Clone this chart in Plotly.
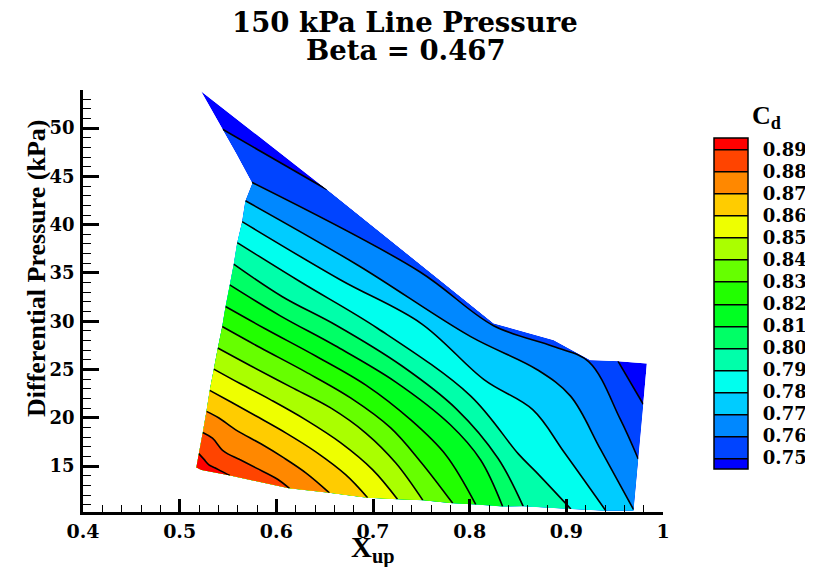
import plotly.graph_objects as go

# ---------------- data ----------------
# Curvilinear measurement grid: 17 rows (b) x 7 columns (a).
a_idx = [0, 1, 2, 3, 4, 5, 6]
b_idx = [0, 1, 2, 3, 4, 5, 6, 7, 8, 9, 10, 11, 12, 13, 14, 15, 16]

x_up = [
    [0.5172, 0.5181, 0.5189, 0.5198, 0.5207, 0.5216, 0.5224],
    [0.5197, 0.5248, 0.5300, 0.5352, 0.5403, 0.5455, 0.5507],
    [0.5238, 0.5338, 0.5452, 0.5617, 0.5783, 0.6007, 0.6127],
    [0.5276, 0.5400, 0.5576, 0.5835, 0.6072, 0.6300, 0.6541],
    [0.5310, 0.5524, 0.5783, 0.6093, 0.6403, 0.6714, 0.6938],
    [0.5352, 0.5628, 0.5938, 0.6300, 0.6662, 0.6993, 0.7248],
    [0.5393, 0.5731, 0.6145, 0.6558, 0.6920, 0.7231, 0.7510],
    [0.5439, 0.5835, 0.6300, 0.6765, 0.7179, 0.7489, 0.7820],
    [0.5473, 0.5886, 0.6403, 0.6920, 0.7386, 0.7748, 0.8058],
    [0.5517, 0.6041, 0.6610, 0.7231, 0.7799, 0.8110, 0.8337],
    [0.5558, 0.6059, 0.6610, 0.7282, 0.7851, 0.8285, 0.8544],
    [0.5594, 0.6248, 0.7041, 0.8006, 0.8503, 0.8678, 0.9040],
    [0.5645, 0.6662, 0.7489, 0.8141, 0.8647, 0.8968, 0.9402],
    [0.5679, 0.6835, 0.8006, 0.8696, 0.9040, 0.9350, 0.9695],
    [0.5752, 0.7489, 0.8247, 0.8868, 0.9226, 0.9557, 0.9743],
    [0.5586, 0.7282, 0.8247, 0.8868, 0.9237, 0.9547, 0.9795],
    [0.5221, 0.6541, 0.8247, 0.8868, 0.9247, 0.9537, 0.9833],
]

dp_kpa = [
    [14.84, 14.80, 14.76, 14.72, 14.67, 14.63, 14.59],
    [16.24, 15.67, 15.10, 14.83, 14.57, 14.31, 14.04],
    [18.44, 17.84, 16.50, 15.64, 14.79, 13.62, 12.69],
    [20.62, 19.97, 18.72, 17.28, 15.83, 14.28, 12.24],
    [22.79, 21.62, 20.17, 18.41, 16.45, 14.07, 11.72],
    [25.00, 23.48, 21.83, 19.76, 17.38, 14.59, 11.56],
    [27.18, 25.35, 23.17, 21.00, 18.41, 15.31, 11.45],
    [29.41, 27.21, 24.72, 22.03, 18.93, 15.41, 11.14],
    [31.48, 29.17, 26.38, 23.38, 19.76, 16.14, 11.02],
    [33.72, 30.52, 27.41, 23.69, 19.24, 15.62, 10.81],
    [35.87, 32.51, 29.59, 25.45, 21.00, 15.83, 10.83],
    [38.10, 34.03, 29.24, 22.24, 16.14, 14.38, 10.55],
    [40.27, 34.24, 29.79, 23.90, 20.79, 16.45, 10.38],
    [42.44, 35.79, 28.38, 24.93, 22.17, 16.66, 10.38],
    [44.28, 35.07, 29.53, 27.34, 25.71, 19.76, 15.62],
    [47.36, 36.83, 29.65, 27.69, 25.83, 22.86, 21.31],
    [53.82, 43.50, 29.76, 28.03, 25.97, 25.86, 25.62],
]

cd = [
    [0.8945, 0.8945, 0.8945, 0.8945, 0.8945, 0.8945, 0.8945],
    [0.8902, 0.8902, 0.8902, 0.8902, 0.8902, 0.8902, 0.8902],
    [0.8802, 0.8802, 0.8802, 0.8802, 0.8802, 0.8802, 0.8802],
    [0.8702, 0.8702, 0.8702, 0.8702, 0.8702, 0.8702, 0.8702],
    [0.8602, 0.8602, 0.8602, 0.8602, 0.8602, 0.8602, 0.8602],
    [0.8502, 0.8502, 0.8502, 0.8502, 0.8502, 0.8502, 0.8502],
    [0.8402, 0.8402, 0.8402, 0.8402, 0.8402, 0.8402, 0.8402],
    [0.8302, 0.8302, 0.8302, 0.8302, 0.8302, 0.8302, 0.8302],
    [0.8202, 0.8202, 0.8202, 0.8202, 0.8202, 0.8202, 0.8202],
    [0.8102, 0.8102, 0.8102, 0.8102, 0.8102, 0.8102, 0.8102],
    [0.8002, 0.8002, 0.8002, 0.8002, 0.8002, 0.8002, 0.8002],
    [0.7902, 0.7902, 0.7902, 0.7902, 0.7902, 0.7902, 0.7902],
    [0.7802, 0.7802, 0.7802, 0.7802, 0.7802, 0.7802, 0.7802],
    [0.7702, 0.7702, 0.7702, 0.7702, 0.7702, 0.7702, 0.7702],
    [0.7602, 0.7602, 0.7602, 0.7602, 0.7602, 0.7602, 0.7602],
    [0.7546, 0.7560, 0.7575, 0.7580, 0.7599, 0.7550, 0.7501],
    [0.7428, 0.7501, 0.7560, 0.7570, 0.7598, 0.7499, 0.7455],
]

cd_levels = [0.75, 0.76, 0.77, 0.78, 0.79, 0.80, 0.81, 0.82,
             0.83, 0.84, 0.85, 0.86, 0.87, 0.88, 0.89]
cd_labels = ["0.75", "0.76", "0.77", "0.78", "0.79", "0.80", "0.81", "0.82",
             "0.83", "0.84", "0.85", "0.86", "0.87", "0.88", "0.89"]

band_colors = ["#0000ff", "#0044ff", "#0088ff", "#00ccff", "#00ffee", "#00ffaa",
               "#00ff66", "#00ff22", "#22ff00", "#66ff00", "#aaff00", "#eeff00",
               "#ffcc00", "#ff8800", "#ff4400", "#ff0000"]

# ---------------- figure ----------------
# The page body adds an 8 px offset, so the figure is 8 px smaller each way.
OFF = 8
W, H = 813 - OFF, 567 - OFF
ML, MR, MT, MB = 75, 150, 82, 55
PW, PH = W - ML - MR, H - MT - MB


def px_x(p):
    """screen pixel x -> paper fraction"""
    return (p - OFF - ML) / PW


def px_y(p):
    """screen pixel y -> paper fraction"""
    return (H - MB - (p - OFF)) / PH


n = len(band_colors)
colorscale = [[i / (n - 1), c] for i, c in enumerate(band_colors)]

hidden_axis = dict(smoothing=0, showgrid=False, showline=False, startline=False,
                   endline=False, showticklabels="none", minorgridcount=0,
                   gridcolor="rgba(0,0,0,0)")

fig = go.Figure()
fig.add_trace(go.Carpet(
    a=a_idx, b=b_idx, x=x_up, y=dp_kpa, carpet="grid",
    aaxis=hidden_axis, baxis=hidden_axis,
))
fig.add_trace(go.Contourcarpet(
    a=a_idx, b=b_idx, z=cd, carpet="grid",
    autocontour=False,
    contours=dict(start=cd_levels[0], end=cd_levels[-1], size=0.01,
                  coloring="fill", showlines=True),
    line=dict(color="black", width=1.6),
    colorscale=colorscale,
    colorbar=dict(
        x=px_x(714), xanchor="left", xpad=0,
        y=px_y(303.7), yanchor="middle", ypad=0,
        len=331, lenmode="pixels", thickness=34, thicknessmode="pixels",
        outlinewidth=1.5, outlinecolor="black",
        tickmode="array", tickvals=cd_levels, ticktext=cd_labels,
        ticks="outside", ticklen=11, tickcolor="rgba(0,0,0,0)",
        tickfont=dict(family="DejaVu Serif", size=18, color="black", weight="bold"),
    ),
))

fig.update_layout(
    width=W, height=H, autosize=False,
    margin=dict(l=ML, r=MR, t=MT, b=MB, autoexpand=False),
    paper_bgcolor="white", plot_bgcolor="white",
    showlegend=False,
    xaxis=dict(range=[0.4, 1.0], tick0=0.4, dtick=0.1, showgrid=False, zeroline=False,
               showline=True, linecolor="black", linewidth=2.5, mirror=False,
               ticks="inside", ticklen=13, tickwidth=2.5, tickcolor="black",
               minor=dict(ticks="inside", ticklen=7, tickwidth=1, tickcolor="black",
                          dtick=0.02, tick0=0.4, showgrid=False),
               tickfont=dict(family="DejaVu Serif", size=19, color="black", weight="bold"),
               ticklabelstandoff=0, automargin=False),
    yaxis=dict(range=[10.24, 53.95], tick0=0, dtick=5, showgrid=False, zeroline=False,
               showline=True, linecolor="black", linewidth=2.5, mirror=False,
               ticks="inside", ticklen=16, tickwidth=2.5, tickcolor="black",
               minor=dict(ticks="inside", ticklen=8, tickwidth=1, tickcolor="black",
                          dtick=1, tick0=0, showgrid=False),
               tickfont=dict(family="DejaVu Serif", size=18, color="black", weight="bold"),
               ticklabelstandoff=2, automargin=False),
    annotations=[
        dict(text="150 kPa Line Pressure", xref="paper", yref="paper",
             x=px_x(405), y=px_y(22), xanchor="center", yanchor="middle",
             showarrow=False,
             font=dict(family="DejaVu Serif", size=27.5, color="black", weight="bold")),
        dict(text="Beta = 0.467", xref="paper", yref="paper",
             x=px_x(406), y=px_y(50), xanchor="center", yanchor="middle",
             showarrow=False,
             font=dict(family="DejaVu Serif", size=27.5, color="black", weight="bold")),
        dict(text="Differential Pressure (kPa)", xref="paper", yref="paper",
             x=px_x(36), y=px_y(268), xanchor="center", yanchor="middle",
             textangle=-90, showarrow=False,
             font=dict(family="Liberation Serif", size=26, color="black", weight="bold")),
        dict(text="X<sub>up</sub>", xref="paper", yref="paper",
             x=px_x(373), y=px_y(549), xanchor="center", yanchor="middle",
             showarrow=False,
             font=dict(family="Liberation Serif", size=29, color="black", weight="bold")),
        dict(text="C<sub>d</sub>", xref="paper", yref="paper",
             x=px_x(766), y=px_y(117), xanchor="center", yanchor="middle",
             showarrow=False,
             font=dict(family="Liberation Serif", size=26, color="black", weight="bold")),
    ],
)

fig.write_html("out.html")
